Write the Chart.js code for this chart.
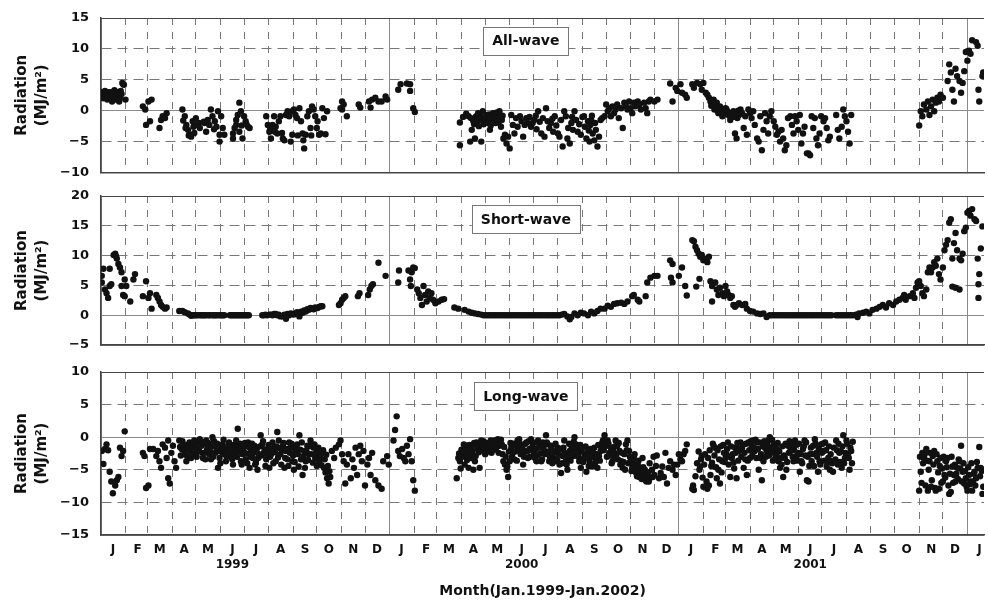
<!DOCTYPE html>
<html><head><meta charset="utf-8">
<script src="https://cdn.jsdelivr.net/npm/chart.js@4.4.1/dist/chart.umd.min.js"></script>
<style>
html,body{margin:0;padding:0;background:#fff;}
body{width:988px;height:600px;position:relative;overflow:hidden;}
.p{position:absolute;left:0;width:988px;}
</style></head><body>
<div class="p" style="top:0;height:182px"><canvas id="c1"></canvas></div>
<div class="p" style="top:182px;height:172px"><canvas id="c2"></canvas></div>
<div class="p" style="top:362px;height:238px"><canvas id="c3"></canvas></div>
<script>
// x = days since 1 Jan 1999, y = MJ/m2
const allWave = [
[1,2.5],[2,3.0],[3,2.0],[4,2.8],[5,3.2],[6,2.2],[7,2.6],[8,1.8],[9,3.0],[10,2.6],[11,2.0],[12,3.0],[13,2.4],[14,1.5],[15,2.8],[16,2.2],[17,3.3],[18,2.6],[19,1.8],[20,2.1],[21,3.0],[23,1.5],[24,2.0],[25,3.2],[26,2.7],[27,4.5],[28,4.3],[29,4.2],[31,1.8],
[53,0.7],[56,0.2],[57,-2.3],[60,1.5],[62,-1.7],[64,1.8],[74,-2.8],[76,-1.5],[78,-0.9],[81,-1.2],[83,-0.4],
[103,0.2],[104,-1.6],[106,-0.9],[107,-2.8],[108,-2.3],[110,-3.1],[111,-4.0],[112,-3.9],[114,-4.2],[116,-1.7],[117,-2.6],[118,-3.6],[120,-1.2],[122,-2.3],[124,-2.0],[125,-2.8],
[130,-1.8],[131,-2.0],[133,-3.4],[135,-1.5],[137,-2.3],[139,0.2],[141,-0.9],[143,-3.0],[144,-1.7],[146,-2.6],[148,-0.1],[150,-3.9],[150,-5.0],[152,-0.9],[154,-2.8],[156,-3.9],
[167,-4.5],[167,-3.7],[169,-2.8],[171,-1.5],[171,-2.3],[173,-0.7],[175,1.3],[175,-3.4],[177,-0.1],[178,-2.4],[179,-4.5],[181,-0.9],[183,-1.7],[184,-2.2],[186,-2.6],[188,-2.8],
[209,-0.9],[211,-2.3],[213,-3.4],[214,-3.0],[215,-4.5],[217,-2.3],[219,-0.9],[220,-3.4],[221,-2.6],[223,-3.7],[225,-1.7],[227,-0.9],[229,-3.6],[230,-4.5],[232,-4.8],[234,-0.7],[236,-0.1],[238,-0.9],[240,-5.0],[242,-3.9],[242,-0.1],
[244,0.2],[246,-0.7],[248,-1.2],[249,-4.0],[251,0.4],[253,-1.7],[255,-3.7],[256,-4.8],[257,-6.1],[259,-3.9],[261,-0.9],[263,-0.1],[265,-2.8],[266,-4.0],[267,0.7],[269,0.2],[271,-0.9],[273,-2.8],[274,-1.7],[276,-3.9],[278,-3.7],[280,0.4],[282,-1.2],[284,-3.8],[286,-0.1],
[303,0.4],[305,1.5],[305,0.2],[307,1.0],[311,-0.9],[326,1.0],[328,0.5],[339,1.5],[341,0.5],[343,1.8],[347,2.1],[351,1.5],[355,1.5],[360,2.3],[362,1.8],
[376,3.4],[379,4.3],[387,4.4],[391,4.3],[391,3.2],[395,0.4],[397,-0.2],
[454,-1.9],[454,-5.6],[458,-1.0],[462,-0.5],[465,-0.9],[467,-5.0],[468,-1.2],[469,-3.1],[471,-1.7],[472,-2.2],[473,-4.5],[474,-1.0],[475,-0.9],[476,-1.8],[477,-0.4],[478,-2.5],[479,-1.2],[480,-0.8],[481,-5.0],[482,-1.5],[483,-0.1],[484,-2.2],[486,-1.5],[487,-1.0],[488,-0.7],[489,-1.8],[490,-2.0],[491,-0.6],[492,-3.1],[493,-2.4],[494,-0.9],[495,-1.4],[496,-0.4],[497,-0.9],[498,-1.7],[499,-2.0],[500,-1.2],[501,-0.3],[502,-0.7],[503,-1.9],[504,-0.1],[505,-1.0],[506,-2.6],[507,-1.5],[508,-0.8],[509,-4.5],[511,-3.9],[513,-5.3],[515,-4.2],[517,-6.1],[519,-0.7],[521,-2.3],[523,-3.7],[525,-1.2],[527,-2.6],[530,-0.9],[532,-1.7],[534,-4.2],[536,-2.3],[538,-1.2],[540,-2.0],[542,-1.0],[544,-2.6],[546,-2.0],[548,-1.5],[550,-0.8],[551,-3.0],[553,-0.1],[555,-1.8],[557,-3.7],[559,-1.2],[561,-4.2],[563,0.4],[565,-1.7],[567,-2.8],[569,-2.0],[571,-1.3],[572,-3.4],[574,-0.9],[576,-2.4],[578,-3.7],[580,-4.2],[582,-1.5],[584,-5.8],[586,-0.1],[588,-0.9],[590,-4.5],[591,-2.8],[593,-5.3],[595,-2.0],[596,-1.0],[597,-3.1],[599,-0.1],[601,-1.5],[603,-3.4],[605,-2.2],[607,-3.9],[609,-1.0],[611,-0.9],[612,-2.6],[614,-4.5],[616,-1.7],[617,-3.2],[618,-5.0],[619,-2.3],[620,-1.5],[621,-0.8],[622,-3.7],[624,-4.8],[625,-2.0],[626,-3.1],[628,-5.8],[630,-4.2],[632,-1.5],[634,-1.2],[637,-0.9],[639,1.0],[641,-0.1],[643,0.4],[645,-0.9],[647,0.7],[649,-0.4],[651,0.2],[653,1.0],[655,-1.2],[658,0.4],[660,-2.8],[662,1.3],[664,0.7],[666,0.2],[668,1.5],[670,0.4],[672,-0.4],[674,1.3],[676,0.7],[679,1.5],[681,1.0],[683,0.2],[687,1.3],[689,0.4],[691,-0.4],[693,1.5],[695,1.8],[700,1.5],[704,1.8],
[720,4.4],[723,1.5],[727,3.7],[729,3.2],[733,4.3],[735,2.9],[739,2.6],[741,2.1],[748,4.3],[750,3.7],[754,4.5],[758,4.3],[760,3.4],[762,4.5],[765,2.9],[767,2.6],[769,2.1],[771,1.5],[772,0.8],[773,1.0],[775,1.8],[776,0.2],[777,0.4],[778,1.0],[779,1.3],[780,0.0],[781,-0.4],[782,0.5],[783,0.7],[784,-0.3],[786,-0.9],[787,0.1],[788,0.2],[789,-0.5],[790,0.4],[791,0.3],[792,-0.1],[793,-0.2],[794,-0.7],[795,-0.8],[796,-1.5],[798,-0.5],[800,-0.1],[801,-1.0],[802,-3.7],[803,-0.3],[804,-4.5],[805,-1.2],[806,0.0],[807,-0.7],[809,0.2],[811,-0.4],[813,-2.8],[815,-0.9],[817,-3.9],[819,0.2],[821,-0.4],[823,-1.2],[825,-0.1],[827,-2.3],[830,-4.5],[832,-5.0],[834,-0.9],[836,-6.4],[838,-3.1],[840,-0.4],[842,-1.7],[844,-3.7],[846,-0.9],[848,-0.1],[851,-1.7],[853,-2.6],[855,-3.9],[857,-3.4],[859,-5.0],[861,-3.1],[863,-4.5],[865,-6.4],[867,-5.6],[869,-1.2],[872,-0.9],[874,-2.3],[876,-3.7],[878,-0.9],[880,-1.7],[882,-3.1],[884,-0.7],[886,-5.3],[888,-3.7],[890,-2.6],[893,-6.9],[895,-6.9],[897,-7.2],[899,-0.9],[901,-2.8],[903,-1.2],[905,-4.5],[907,-5.6],[909,-3.7],[911,-0.9],[914,-1.7],[916,-1.2],[918,-2.8],[920,-4.8],[922,-4.2],[930,-0.7],[932,-3.1],[934,-4.5],[937,-2.6],[939,0.2],[941,-0.9],[943,-1.7],[945,-3.4],[947,-5.3],[949,-0.7],
[1035,-2.4],[1037,-0.1],[1039,-0.9],[1041,1.0],[1044,0.2],[1046,1.5],[1048,-0.7],[1050,0.7],[1052,1.8],[1054,-0.1],[1056,1.3],[1058,2.1],[1060,1.5],[1062,2.6],[1065,2.1],[1071,4.8],[1073,7.5],[1075,6.2],[1077,3.4],[1079,1.5],[1081,6.8],[1083,5.6],[1086,4.8],[1088,2.9],[1090,4.5],[1092,6.4],[1094,9.5],[1096,8.1],[1098,9.7],[1100,9.2],[1102,11.4],[1107,11.1],[1109,10.5],[1110,3.4],[1111,1.5],[1115,5.6],[1116,6.2]
];

const shortWave = [
[1,6.6],[1,5.5],[3,7.8],[5,4.3],[7,3.7],[9,2.9],[11,7.8],[11,4.9],[13,5.2],[16,10.1],[18,10.3],[19,9.9],[20,9.5],[22,8.6],[24,8.0],[26,7.2],[26,4.9],[28,3.4],[30,6.0],[30,3.2],[32,4.9],[37,2.3],[41,6.0],[43,6.9],
[53,3.2],[57,5.7],[60,2.9],[62,3.7],[64,1.1],[70,3.4],[72,2.9],[74,2.3],[76,1.7],[78,1.4],[81,1.1],[83,1.3],
[99,0.7],[103,0.7],[106,0.5],[110,0.3],[112,0.1],[114,-0.1],[116,0],[118,0],[120,0],[122,0],[125,0],[127,0],[129,0],[131,0],[133,0],[136,0],[138,0],[141,0],[143,0],[145,0],[147,0],[150,0],[152,0],[154,0],[156,0],
[163,0],[165,0],[167,0],[169,0],[171,0],[173,0],[175,0],[177,0],[179,0],[181,0],[183,0],[185,0],[187,0],
[204,0],[206,0],[208,0.1],[210,0],[213,0.1],[215,0.1],[217,0],[219,0.2],[221,0.2],[223,0],[225,0.1],[227,-0.2],[230,-0.2],[232,0.1],[234,-0.6],[236,0.2],[238,0],[240,0.3],[242,0.2],[244,0.1],[246,0.3],[248,0.5],[251,-0.2],[253,0.6],[255,0.4],[257,0.8],[259,0.6],[261,1.0],[263,0.9],[265,1.2],[267,1.1],[269,1.0],[271,1.3],[274,1.2],[276,1.4],[278,1.5],[280,1.5],
[301,1.7],[303,2.0],[305,2.6],[307,2.9],[309,3.2],[325,3.2],[327,3.7],[338,3.4],[340,4.3],[342,4.9],[344,5.2],[351,8.8],[360,6.6],
[376,5.5],[377,7.5],[389,7.5],[391,6.0],[392,4.9],[393,7.2],[395,8.0],[397,7.9],[400,4.3],[402,3.7],[404,2.9],[406,1.7],[408,4.9],[410,3.4],[412,2.3],[414,4.0],[416,2.9],[418,3.7],[420,2.6],[423,2.0],[427,2.3],[431,2.6],[434,2.7],
[447,1.3],[452,1.1],[460,0.9],[465,0.6],[469,0.4],[473,0.3],[477,0.2],[481,0.1],[484,0],[487,0],[490,0],[493,0],[496,0],[499,0],[502,0],[505,0],[508,0],[511,0],[514,0],[517,0],[520,0],[523,0],[526,0],[529,0],[532,0],[535,0],[538,0],[541,0],[544,0],[547,0],[550,0],[553,0],[556,0],[559,0],[562,0],[565,0],[568,0],[571,0],[574,0],[577,0],[580,0],[583,0.1],[586,0.2],[590,-0.2],[593,-0.7],[595,-0.3],[599,0.3],[603,0],[607,0.4],[611,0.3],[616,0],[620,0.6],[624,0.3],[628,0.7],[632,1.1],[637,1.1],[641,1.6],[645,1.4],[649,1.9],[653,2.0],[658,2.1],[662,1.9],[666,2.3],[672,3.2],[674,3.4],[679,2.6],[681,2.3],[689,3.2],[691,5.5],[695,6.3],[700,6.6],[704,6.6],
[720,9.2],[721,6.3],[723,8.6],[723,5.5],[731,6.6],[735,8.0],[739,4.9],[741,3.3],[748,12.6],[750,12.4],[752,11.5],[753,4.8],[754,10.9],[756,10.3],[757,6.1],[758,9.8],[760,10.1],[762,9.2],[765,9.5],[767,8.9],[769,9.8],[771,5.7],[773,4.9],[773,2.3],[777,5.5],[779,4.3],[781,3.4],[783,4.6],[786,3.7],[788,3.2],[790,4.9],[792,4.0],[794,3.4],[796,2.9],[798,3.2],[800,1.7],[802,1.4],[804,1.7],[807,2.0],[811,1.7],[815,1.9],[817,1.1],[821,0.7],[825,0.6],[830,0.3],[834,0.2],[838,0.3],[842,-0.3],[846,0],[849,0],[852,0],[855,0],[858,0],[861,0],[864,0],[867,0],[870,0],[873,0],[876,0],[879,0],[882,0],[885,0],[888,0],[891,0],[894,0],[897,0],[900,0],[903,0],[906,0],[909,0],[912,0],[915,0],[918,0],[921,0],[924,0],[930,0],[933,0],[936,0],[939,0],[942,0],[945,0],[948,0],[951,0],[955,0.1],[957,-0.3],[959,0.3],[964,0.4],[968,0.6],[972,0.3],[976,0.9],[981,1.1],[985,1.4],[989,1.7],[993,1.3],[997,2.0],[1002,1.7],[1006,2.3],[1010,2.6],[1014,2.9],[1016,3.4],[1018,2.6],[1023,3.2],[1027,3.7],[1029,2.9],[1031,4.6],[1033,5.5],[1035,5.7],[1037,4.9],[1039,3.7],[1041,3.2],[1044,4.3],[1046,7.2],[1048,8.0],[1050,7.2],[1052,8.0],[1054,8.9],[1056,8.3],[1058,9.5],[1060,6.9],[1062,6.0],[1065,8.0],[1067,10.9],[1069,11.8],[1071,12.6],[1073,15.5],[1075,16.1],[1077,9.5],[1077,4.8],[1079,12.1],[1081,13.8],[1081,4.6],[1083,10.9],[1086,9.5],[1086,4.3],[1088,9.2],[1090,10.3],[1092,14.1],[1094,14.7],[1096,17.2],[1098,17.5],[1100,16.7],[1102,17.8],[1105,16.1],[1107,15.8],[1109,9.5],[1110,5.2],[1110,2.9],[1111,6.9],[1113,11.2],[1115,14.9]
];

const longWave = [
[1,-2.1],[3,-4.1],[5,-1.8],[7,-1.1],[9,-2.0],[11,-5.3],[13,-6.8],[15,-8.6],[18,-7.4],[20,-6.6],[22,-6.1],[24,-1.6],[26,-2.9],[28,-2.1],[30,0.9],
[53,-2.4],[55,-2.9],[57,-7.8],[60,-7.4],[62,-1.8],[66,-1.8],[70,-2.9],[72,-2.1],[74,-3.7],[76,-4.7],[78,-1.1],[81,-1.6],[83,-3.2],[85,-6.3],[85,-0.5],[87,-7.1],[89,-2.4],[91,-1.3],[93,-3.7],[95,-4.7],
[99,-0.5],[100,-1.5],[101,-2.8],[102,-1.8],[103,-0.6],[104,-1.1],[105,-2.0],[106,-2.6],[107,-1.2],[108,-3.7],[109,-2.9],[110,-1.8],[111,-1.4],[112,-0.8],[113,-2.2],[114,-3.2],[115,-0.9],[116,-1.6],[117,-2.7],[118,-0.5],[119,-1.2],[120,-2.4],[121,-3.0],[122,-1.8],[123,-0.8],[124,-2.1],[125,-0.3],[126,-0.7],[127,-1.3],[128,-2.4],[129,-3.2],[130,-1.0],[131,-2.4],[132,-3.4],[133,-0.5],[134,-1.9],[135,-1.6],[136,-0.9],[137,-2.6],[138,-2.2],[139,-3.4],[140,-1.4],[141,0],[142,-3.0],[143,-0.6],[144,-1.3],[145,-2.4],[146,-2.1],[147,-1.0],[148,-4.7],[149,-2.0],[150,-3.2],[151,-4.0],[152,-1.6],[153,-2.3],[154,-1.1],[155,-0.4],[156,-2.6],[157,-1.8],[158,-3.7],[159,-3.0],[160,-2.1],[161,-1.5],[162,-0.8],[163,-2.1],[164,-2.9],[165,-1.2],[166,-3.4],[167,-4.2],[168,-2.6],[169,-1.8],[170,-1.1],[171,-0.5],[172,-3.0],[173,1.3],[174,-2.2],[175,-1.8],[176,-1.0],[177,-3.7],[178,-4.2],[179,-2.6],[180,-2.0],[181,-1.3],[182,-0.9],[183,-3.4],[184,-2.5],[185,-4.0],[186,-0.8],[187,-1.5],[188,-4.7],[189,-3.0],[190,-2.1],[191,-1.0],[192,-3.2],[193,-2.4],[194,-1.3],[195,-4.2],[196,-3.9],[197,-1.8],[198,-5.0],[199,-3.2],[200,-2.6],[201,-1.4],[202,0.3],[203,-2.8],[204,-1.1],[205,-0.6],[206,-2.4],[207,-1.9],[208,-4.4],[209,-3.4],[210,-2.7],[211,-1.8],[212,-1.2],[213,-4.7],[214,-3.0],[215,-2.6],[216,-1.8],[217,-0.8],[218,-4.0],[219,-1.6],[220,-2.3],[221,-3.7],[222,-1.4],[223,0.8],[224,-3.1],[225,-0.5],[226,-1.7],[227,-2.6],[228,-4.2],[229,-2.0],[230,-1.3],[231,-0.9],[232,-4.7],[233,-3.2],[234,-2.1],[235,-1.8],[236,-3.4],[237,-4.4],[238,-0.8],[239,-2.4],[240,-1.6],[241,-1.0],[242,-3.7],[243,-2.8],[244,-5.0],[245,-3.8],[246,-2.1],[247,-1.5],[248,-1.1],[249,-2.6],[250,-4.5],[251,0.3],[252,-1.9],[253,-3.4],[254,-0.8],[255,-5.8],[256,-2.9],[257,-2.1],[258,-4.7],[259,-3.7],[260,-2.2],[261,-1.3],[262,-3.5],[263,-2.6],[264,-1.4],[265,-0.5],[266,-2.6],[267,-1.1],[268,-3.9],[269,-1.6],[270,-1.1],[271,-3.2],[272,-2.4],[273,-4.4],[274,-2.1],[275,-1.6],[276,-3.7],[277,-3.0],[278,-2.6],[279,-4.3],[281,-2.0],[282,-4.7],[283,-3.4],[284,-5.4],[285,-2.7],[286,-6.3],[287,-4.4],[288,-7.1],[289,-5.2],
[290,-6.1],[292,-2.1],[295,-3.2],[297,-1.6],[301,-1.1],[303,-0.5],[305,-2.6],[307,-3.7],[309,-7.1],[311,-4.2],[313,-2.6],[316,-6.3],[318,-3.4],[320,-4.7],[322,-1.6],[324,-5.8],[326,-2.6],[328,-1.3],[330,-3.7],[332,-2.1],[334,-7.4],[337,-4.2],[339,-3.2],[341,-5.8],[343,-2.4],[347,-6.6],[351,-7.4],[355,-7.9],[357,-3.7],[362,-2.9],[364,-4.2],
[370,-0.5],[372,1.1],[374,3.2],[376,-2.1],[378,-2.9],[381,-1.8],[383,-3.2],[385,-3.7],[387,-1.3],[389,-2.6],[391,-0.3],[393,-3.7],[395,-6.6],[397,-8.2],
[450,-6.3],[452,-3.2],[453,-2.5],[454,-3.7],[455,-4.8],[456,-1.9],[457,-3.0],[458,-2.1],[459,-1.1],[460,-4.2],[461,-2.8],[462,-1.3],[463,-3.5],[464,-2.0],[465,-4.7],[466,-1.2],[467,-2.6],[468,-3.2],[469,-1.6],[470,-2.2],[471,-5.0],[472,-0.9],[473,-3.7],[474,-2.9],[475,-0.8],[476,-1.4],[477,-1.8],[478,-2.3],[479,-4.7],[480,-1.0],[481,-0.5],[482,-2.0],[483,-1.3],[484,-0.6],[485,-1.8],[486,-2.6],[487,-0.9],[488,-1.1],[489,-2.2],[490,-1.8],[491,-1.5],[492,-0.8],[493,-0.5],[494,-2.4],[495,-2.0],[496,-1.3],[497,-1.0],[498,-0.5],[499,-1.9],[500,-1.6],[501,-0.8],[502,-0.3],[503,-2.4],[504,-1.3],[505,-1.0],[506,-0.4],[507,-1.1],[508,-2.6],[509,-3.7],[510,-1.5],[511,-4.2],[512,-3.0],[513,-5.0],[514,-4.5],[515,-6.1],[516,-2.2],[517,-3.7],[518,-0.9],[519,-1.6],[520,-3.0],[521,-2.4],[522,-1.0],[523,-3.4],[524,-2.2],[525,-1.3],[526,-3.6],[527,-0.5],[528,-1.4],[529,-0.3],[530,-1.8],[531,-2.6],[532,-1.1],[533,-1.6],[534,-4.2],[535,-3.0],[536,-2.1],[537,-1.0],[538,-0.8],[539,-2.2],[540,-3.2],[541,-0.6],[542,-1.8],[543,-3.0],[544,-0.3],[545,-2.0],[546,-1.3],[547,-0.8],[548,-2.4],[549,-3.2],[550,-1.8],[551,-3.7],[552,-2.8],[553,-0.5],[554,-1.0],[555,-1.6],[556,-2.5],[557,-3.7],[558,-3.4],[559,-0.8],[560,-1.4],[561,-2.1],[562,-2.6],[563,0.3],[564,-0.8],[565,-1.1],[566,-2.2],[567,-3.7],[568,-3.0],[569,-1.3],[570,-1.6],[571,-4.0],[572,-3.2],[573,-2.4],[574,-3.7],[575,-1.0],[576,-2.1],[577,-3.4],[578,-1.6],[579,-2.6],[580,-4.2],[581,-1.9],[582,-5.5],[583,-4.0],[584,-2.9],[585,-1.6],[586,-0.5],[587,-2.4],[588,-3.7],[589,-4.2],[590,-5.0],[591,-3.0],[592,-1.0],[593,-2.1],[594,-3.6],[595,-1.3],[596,-2.0],[597,-2.9],[598,-0.7],[599,0],[600,-2.8],[601,-1.1],[602,-1.8],[603,-2.4],[604,-3.0],[605,-3.7],[606,-1.2],[607,-4.7],[608,-2.2],[609,-1.6],[610,-3.8],[611,-3.2],[612,-2.6],[613,-1.4],[614,-5.3],[615,-3.2],[616,-2.1],[617,-4.4],[618,-3.7],[619,-1.8],[620,-2.6],[621,-3.0],[622,-4.5],[623,-2.4],[624,-1.6],[625,-4.0],[626,-3.4],[627,-2.6],[628,-4.7],[629,-1.2],[630,-2.9],[631,-3.6],[632,-2.1],[633,-1.5],[634,-0.9],[635,-0.5],[636,-2.0],[637,0.3],[638,-1.4],[639,-1.1],[640,-3.0],[641,-0.5],[642,-1.0],[643,-2.4],[644,-2.8],[645,-1.6],[646,-4.0],[647,-3.7],[648,-2.0],[649,-2.9],[650,-1.4],[651,-0.5],[652,-2.6],[653,-1.3],[654,-3.4],[655,-0.9],[656,-2.1],[657,-4.2],[658,-3.7],[659,-2.4],[660,-4.7],[661,-3.8],[662,-2.6],[663,-5.0],[664,-1.1],[665,-2.0],[666,-0.5],[667,-4.0],[668,-2.1],[669,-3.0],[670,-3.7],[671,-5.2],[672,-4.7],[673,-4.0],[674,-3.2],[675,-2.6],[676,-4.8],[677,-5.5],[678,-6.0],[679,-4.2],[680,-3.6],[681,-6.1],[682,-5.4],[683,-4.7],[684,-6.4],[685,-3.2],[686,-4.6],[687,-5.8],[688,-5.0],[689,-6.6],[690,-6.8],[691,-6.1],[692,-5.4],[693,-6.8],[694,-4.0],[695,-6.2],[697,-5.0],[698,-6.1],[699,-3.0],[700,-5.8],[702,-4.4],[703,-2.8],
[706,-6.3],[708,-5.5],[710,-4.5],[712,-6.1],[714,-2.4],[716,-7.1],[718,-4.7],[720,-3.7],[723,-5.0],[725,-4.2],[727,-5.8],[729,-4.2],[731,-2.6],[733,-3.4],[735,-3.7],[737,-2.6],[739,-2.1],[741,-1.1],
[748,-7.9],[749,-7.4],[750,-8.1],[752,-6.0],[754,-4.0],[756,-2.2],[757,-5.0],[758,-4.5],[759,-3.4],[760,-2.9],[761,-6.2],[762,-7.6],[763,-4.2],[764,-2.6],[766,-6.8],[767,-7.9],[768,-3.2],[769,-7.4],[770,-2.0],[771,-5.8],[772,-4.4],[773,-3.9],[774,-1.0],[775,-1.3],[776,-2.8],[777,-1.6],[778,-4.6],[779,-6.3],[780,-2.0],[781,-5.0],[782,-3.4],[783,-7.1],[784,-1.4],[785,-5.4],[786,-3.7],[787,-1.2],[788,-2.4],[789,-3.8],[790,-3.2],[791,-2.6],[792,-1.8],[793,-0.8],[794,-4.2],[795,-3.0],[796,-6.1],[797,-1.4],[798,-3.2],[799,-2.6],[800,-3.9],[801,-4.8],[802,-1.6],[803,-2.4],[804,-6.3],[805,-0.9],[806,-3.6],[807,-2.1],[808,-1.8],[809,-0.8],[810,-3.0],[811,-1.8],[812,-1.2],[813,-4.7],[814,-2.4],[815,-3.4],[816,-1.0],[817,-5.8],[818,-3.6],[819,-0.8],[820,-2.0],[821,-3.2],[822,-0.6],[823,-1.3],[824,-2.8],[825,-0.5],[826,-1.6],[827,-2.1],[828,-0.4],[829,-3.2],[830,-0.8],[831,-1.8],[832,-5.0],[833,-0.8],[834,-3.2],[835,-2.6],[836,-6.6],[837,-1.4],[838,-3.7],[839,-0.6],[840,-1.6],[841,-3.0],[842,-2.1],[843,-1.2],[844,-0.5],[845,-2.8],[846,0],[847,-1.6],[848,-2.4],[849,-0.4],[850,-3.6],[851,-1.1],[852,-1.8],[853,-3.2],[854,-2.6],[855,-1.8],[856,-0.9],[857,-3.7],[858,-2.2],[859,-4.7],[860,-3.2],[861,-4.2],[862,-1.4],[863,-6.1],[864,-2.8],[865,-3.2],[866,-1.0],[867,-5.0],[868,-3.8],[869,-1.3],[870,-2.4],[871,-0.6],[872,-2.1],[873,-1.6],[874,-0.8],[875,-3.0],[876,-3.7],[877,-2.0],[878,-0.5],[879,-1.2],[880,-2.9],[881,-3.6],[882,-2.4],[883,-1.0],[884,-5.3],[885,-2.6],[886,-3.7],[887,-4.0],[888,-1.8],[889,-1.4],[890,-0.5],[891,-2.8],[892,-0.8],[893,-6.6],[894,-3.0],[895,-6.8],[896,-4.4],[897,-2.6],[898,-1.6],[899,-3.7],[900,-2.6],[901,-1.3],[902,-4.4],[903,-0.3],[904,-1.0],[905,-2.4],[906,-3.0],[907,-5.3],[908,-1.8],[909,-3.7],[910,-4.2],[911,-1.1],[912,-2.4],[913,-1.0],[914,-2.1],[915,-3.6],[916,-0.8],[917,-2.0],[918,-4.5],[919,-3.8],[920,-3.2],[921,-1.4],[922,-5.0],[923,-2.6],[924,-3.7],[925,-4.0],[926,-5.3],[927,-1.6],[929,-3.4],[930,-0.5],[931,-2.0],[932,-4.2],[933,-1.0],[934,-2.4],[935,-3.8],[936,-2.2],[937,-4.7],[938,-1.4],[939,0.3],[940,-4.0],[941,-3.2],[942,-2.4],[943,-0.5],[944,-1.0],[945,-2.6],[946,-3.2],[947,-5.0],[948,-1.6],[949,-2.1],[950,-4.0],[951,-0.7],
[1035,-8.2],[1036,-3.0],[1037,-5.3],[1038,-7.0],[1039,-2.4],[1040,-4.0],[1041,-3.2],[1042,-2.6],[1043,-7.4],[1044,-1.8],[1045,-3.6],[1046,-8.2],[1047,-5.0],[1048,-3.7],[1049,-2.4],[1050,-7.6],[1051,-6.6],[1052,-2.9],[1053,-4.2],[1054,-2.1],[1055,-7.8],[1056,-8.2],[1057,-2.6],[1058,-3.7],[1059,-5.4],[1060,-7.9],[1061,-4.4],[1062,-3.2],[1063,-7.0],[1064,-4.8],[1065,-6.8],[1066,-3.0],[1067,-5.8],[1068,-6.2],[1069,-3.7],[1070,-4.6],[1071,-3.2],[1072,-7.4],[1073,-8.7],[1074,-5.6],[1075,-8.4],[1076,-3.0],[1077,-4.5],[1078,-7.0],[1079,-5.8],[1080,-4.2],[1081,-6.8],[1082,-5.6],[1083,-4.7],[1084,-6.4],[1085,-3.4],[1086,-3.7],[1087,-4.8],[1088,-1.3],[1089,-6.8],[1090,-5.3],[1091,-4.0],[1092,-7.1],[1093,-5.2],[1094,-6.3],[1095,-7.6],[1096,-8.2],[1097,-4.6],[1098,-5.8],[1099,-7.2],[1100,-6.8],[1101,-4.0],[1102,-8.2],[1103,-6.8],[1104,-5.6],[1105,-5.3],[1106,-7.4],[1107,-6.3],[1108,-3.8],[1109,-4.7],[1111,-1.5],[1112,-6.0],[1113,-4.7],[1114,-5.2],[1115,-8.7],[1116,-7.6]
];

const monthLetters = ['J','F','M','A','M','J','J','A','S','O','N','D'];
const yearLabels = ['1999','2000','2001'];
const panelLabels = ['All-wave','Short-wave','Long-wave'];
const yTitle = ['Radiation','(MJ/m\u00B2)'];
const xTitle = 'Month(Jan.1999-Jan.2002)';
const monthCount = 37;
const xMaxDay = 1117;

const monthStarts = Array.from({length: monthCount}, (_, i) =>
  (Date.UTC(1999, i, 1) - Date.UTC(1999, 0, 1)) / 864e5);

Chart.defaults.font.family = '"DejaVu Sans", sans-serif';
Chart.defaults.color = '#111';

const boxLabel = {
  id: 'boxLabel',
  afterDraw(chart, args, opts) {
    const {ctx, chartArea} = chart;
    ctx.save();
    ctx.font = 'bold 14px "DejaVu Sans"';
    const tw = ctx.measureText(opts.text).width;
    const w = tw + 18, h = 28;
    const cx = chartArea.left + 0.4795 * (987 - chartArea.left);
    const cy = chartArea.top + opts.dy;
    ctx.fillStyle = '#fff';
    ctx.fillRect(cx - w / 2, cy - h / 2, w, h);
    ctx.strokeStyle = '#777';
    ctx.lineWidth = 1;
    ctx.strokeRect(Math.round(cx - w / 2) + 0.5, Math.round(cy - h / 2) + 0.5, Math.round(w), h);
    ctx.fillStyle = '#111';
    ctx.textAlign = 'center';
    ctx.textBaseline = 'middle';
    ctx.fillText(opts.text, cx, cy + 1);
    ctx.restore();
  }
};

function makeChart(id, data, yMin, yMax, label, pad, showX, dy) {
  const xScale = {
    type: 'linear', min: 0, max: xMaxDay,
    afterBuildTicks: s => { s.ticks = monthStarts.map(v => ({value: v})); },
    afterFit: s => { s.paddingLeft = 0; s.paddingRight = 0; },
    grid: {
      drawTicks: false,
      color: ctx => (ctx.index % 12 === 0) ? '#8a8a8a' : '#777',
      lineWidth: 1
    },
    border: {
      display: true, color: '#444', width: 1.5,
      dash: ctx => (ctx.type === 'tick' && ctx.index % 12 !== 0) ? [7, 7] : []
    },
    ticks: {
      display: showX, autoSkip: false, maxRotation: 0, minRotation: 0,
      padding: 7.5, labelOffset: 12,
      font: {size: 12, weight: 'bold', lineHeight: '15px'},
      color: '#111',
      callback: (v, i) => {
        const m = monthLetters[i % 12];
        const y = Math.floor(i / 12);
        return (i % 12 === 5 && y < yearLabels.length) ? [m, yearLabels[y]] : m;
      }
    },
    title: {
      display: showX, text: xTitle,
      font: {size: 14, weight: 'bold', lineHeight: '18px'},
      padding: {top: 2, bottom: 0}, color: '#111'
    }
  };
  const yScale = {
    type: 'linear', min: yMin, max: yMax,
    afterFit: s => { s.width = 101; s.paddingTop = 0; s.paddingBottom = 0; },
    ticks: {
      stepSize: 5, padding: 12,
      font: {size: 13, weight: 'bold'}, color: '#111',
      callback: v => (v < 0 ? '\u2212' + Math.abs(v) : '' + v)
    },
    grid: {
      drawTicks: false, lineWidth: 1,
      color: ctx => {
        const v = ctx.tick ? ctx.tick.value : null;
        if (v === yMax) return '#444';
        if (v === 0) return '#8a8a8a';
        return '#777';
      }
    },
    border: {
      display: true, color: '#444', width: 1.5,
      dash: ctx => {
        const v = ctx.tick ? ctx.tick.value : null;
        return (v === null || v === 0 || v === yMax || v === yMin) ? [] : [10, 6];
      }
    },
    title: {
      display: true, text: yTitle,
      font: {size: 15, weight: 'bold', lineHeight: 1.33},
      padding: {top: 12, bottom: 0}, color: '#111'
    }
  };
  return new Chart(document.getElementById(id), {
    type: 'scatter',
    data: {datasets: [{
      data: data.map(p => ({x: p[0], y: p[1]})),
      backgroundColor: '#111', borderWidth: 0, pointRadius: 3.2
    }]},
    options: {
      responsive: true, maintainAspectRatio: false, animation: false, events: [],
      layout: {padding: {left: 0, right: 0, top: pad[0], bottom: pad[1]}},
      plugins: {legend: {display: false}, tooltip: {enabled: false}, boxLabel: {text: label, dy: dy}},
      scales: {x: xScale, y: yScale}
    },
    plugins: [boxLabel]
  });
}

makeChart('c1', allWave, -10, 15, panelLabels[0], [18, 9.5], false, 22.5);
makeChart('c2', shortWave, -5, 20, panelLabels[1], [14, 9], false, 23);
makeChart('c3', longWave, -15, 10, panelLabels[2], [10, 0], true, 24);
</script>
</body></html>
